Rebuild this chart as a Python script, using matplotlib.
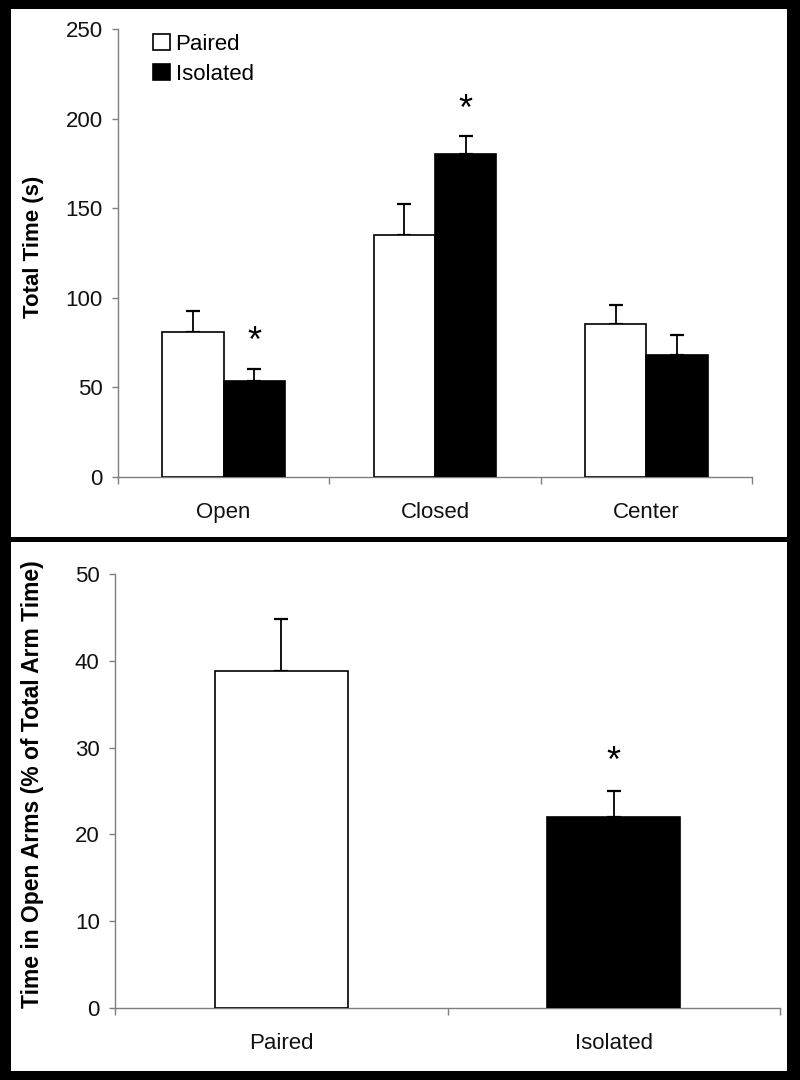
#!/usr/bin/env python3
import numpy as np
import matplotlib
matplotlib.use('Agg')
import matplotlib.pyplot as plt
from matplotlib.patches import Rectangle

# top panel: total time per zone
zones       = ['Open', 'Closed', 'Center']
paired_mean = [80.7, 134.9, 85.4]
paired_err  = [11.8, 17.2, 10.3]
iso_mean    = [53.6, 180.3, 67.8]
iso_err     = [6.8, 9.9, 11.2]
iso_sig     = [True, True, False]    # '*' above isolated bar
top_yticks  = [0, 50, 100, 150, 200, 250]

# bottom panel: % time in open arms
groups      = ['Paired', 'Isolated']
pct_mean    = [38.9, 22.0]
pct_err     = [5.9, 3.0]
pct_sig     = [False, True]
bot_yticks  = [0, 10, 20, 30, 40, 50]

plt.rcParams['font.family'] = ['Liberation Sans', 'DejaVu Sans']

SPINE = '#7f7f7f'
FS = 16


def style_axes(ax):
    for s in ['top', 'right']:
        ax.spines[s].set_visible(False)
    for s in ['left', 'bottom']:
        ax.spines[s].set_color(SPINE)
        ax.spines[s].set_linewidth(1.0)
    ax.tick_params(axis='y', which='major', length=4, width=1.0, color=SPINE,
                   direction='out', pad=7, labelsize=FS, labelcolor='#111111')
    ax.tick_params(axis='x', which='major', length=0, pad=18,
                   labelsize=FS, labelcolor='#111111')
    ax.tick_params(axis='x', which='minor', length=5, width=1.0, color=SPINE,
                   direction='out')
    ax.set_facecolor('white')


def star(ax, x, y, dy):
    ax.annotate('*', xy=(x, y), xytext=(0, dy), textcoords='offset points',
                ha='center', va='baseline', fontsize=26, color='black')


fig = plt.figure(figsize=(8, 10.8), dpi=100, facecolor='black')

# white panels on the black background
for y0, h in [(1 - 537/1080, 528/1080), (1 - 1071/1080, 529/1080)]:
    fig.add_artist(Rectangle((11/800, y0), 776/800, h, transform=fig.transFigure,
                             fc='white', ec='none', zorder=-10))

# ---- top panel ----
ax1 = fig.add_axes([0.1475, 0.5586, 0.7925, 0.4145])
x = np.arange(len(zones))
w = 0.29
ax1.bar(x - w/2, paired_mean, w, color='white', edgecolor='black', linewidth=1.2,
        label='Paired', zorder=3)
ax1.bar(x + w/2, iso_mean, w, color='black', edgecolor='black', linewidth=1.2,
        label='Isolated', zorder=3)
ax1.errorbar(x - w/2, paired_mean, yerr=[np.zeros(3), paired_err], fmt='none',
             ecolor='black', elinewidth=1.3, capsize=5, capthick=1.6, zorder=2)
ax1.errorbar(x + w/2, iso_mean, yerr=[np.zeros(3), iso_err], fmt='none',
             ecolor='black', elinewidth=1.3, capsize=5, capthick=1.6, zorder=2)
for i in range(len(zones)):
    if iso_sig[i]:
        star(ax1, x[i] + w/2, iso_mean[i] + iso_err[i], 12)

ax1.set_xlim(-0.5, len(zones) - 0.5)
ax1.set_ylim(0, 250)
ax1.set_yticks(top_yticks)
ax1.set_xticks(x)
ax1.set_xticklabels(zones)
ax1.set_xticks(np.arange(len(zones) + 1) - 0.5, minor=True)
style_axes(ax1)
ax1.set_ylabel('Total Time (s)', fontsize=16, fontweight='bold')
ax1.yaxis.set_label_coords(-0.117, 0.514)
ax1.legend(loc='upper left', bbox_to_anchor=(0.055, 0.99), frameon=False,
           fontsize=FS, handlelength=0.75, handleheight=0.75,
           handletextpad=0.27, labelspacing=0.42, borderaxespad=0, borderpad=0)

# ---- bottom panel ----
ax2 = fig.add_axes([0.14375, 0.06685, 0.83125, 0.40139])
xb = np.arange(len(groups))
wb = 0.4
ax2.bar(xb, pct_mean, wb, color=['white', 'black'], edgecolor='black',
        linewidth=1.2, zorder=3)
ax2.errorbar(xb, pct_mean, yerr=[np.zeros(2), pct_err], fmt='none',
             ecolor='black', elinewidth=1.3, capsize=5, capthick=1.6, zorder=2)
for i in range(len(groups)):
    if pct_sig[i]:
        star(ax2, xb[i], pct_mean[i] + pct_err[i], 14)

ax2.set_xlim(-0.5, len(groups) - 0.5)
ax2.set_ylim(0, 50)
ax2.set_yticks(bot_yticks)
ax2.set_xticks(xb)
ax2.set_xticklabels(groups)
ax2.set_xticks(np.arange(len(groups) + 1) - 0.5, minor=True)
style_axes(ax2)
ax2.set_ylabel('Time in Open Arms (% of Total Arm Time)', fontsize=16.5,
               fontweight='bold')
ax2.yaxis.set_label_coords(-0.107, 0.516)

fig.savefig('out.png', dpi=100, facecolor='black')
